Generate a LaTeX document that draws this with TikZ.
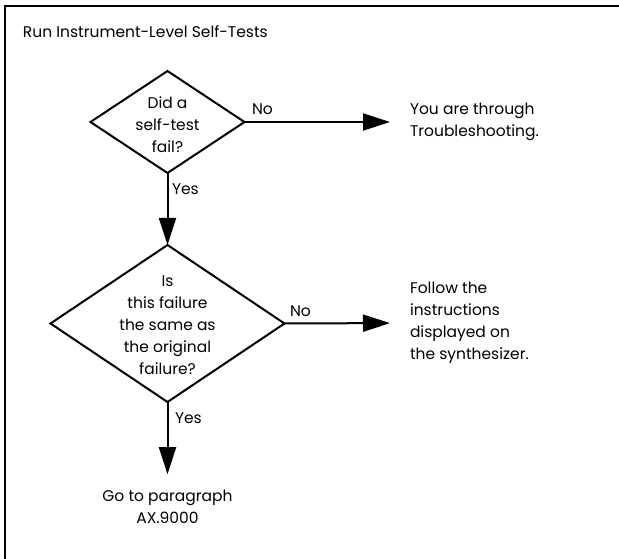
\documentclass[tikz,border=0pt]{standalone}
\usepackage{fontspec}
\setmainfont{Poppins}
\usetikzlibrary{arrows.meta,shapes.geometric}
\begin{document}
\begin{tikzpicture}[x=1pt,y=-1pt,
  every node/.style={inner sep=0pt,outer sep=0pt,font=\fontsize{15.5}{22}\selectfont,text=black},
  dia/.style={draw,diamond,line width=2pt,outer sep=0pt,inner sep=0pt},
  conn/.style={line width=2pt,-{Triangle[length=27pt,width=17pt]}},
  lbl/.style={anchor=base west},
  txt/.style={align=center}]
\useasboundingbox (0,0) rectangle (619,559);
\draw[line width=2pt] (5,559) -- (5,6) -- (619,6);
\node[anchor=base west] (title) at (23,38) {Run Instrument-Level Self-Tests};
\node[dia,minimum width=154pt,minimum height=102pt] (d1) at (167.5,122) {};
\node[txt] (q1) at (167.5,124.5) {Did a\\self-test\\fail?};
\node[dia,minimum width=234pt,minimum height=157pt] (d2) at (167.5,323.5) {};
\node[txt] (q2) at (167.5,325) {Is\\this failure\\the same as\\the original\\failure?};
\node[anchor=west,align=left] (t1) at (410,122) {You are through\\Troubleshooting.};
\node[anchor=west,align=left] (t2) at (410,323) {Follow the\\instructions\\displayed on\\the synthesizer.};
\node[txt] (t3) at (167.5,507) {Go to paragraph\\AX.9000};
\draw[conn,shorten >=20pt] (d1.east) -- (t1.west);
\draw[conn,shorten >=20pt] (d2.east) -- (t2.west);
\draw[conn] (d1.south) -- (d2.north);
\draw[conn,shorten >=16pt] (d2.south) -- (t3.north);
\node[lbl] (no1) at (252,115) {No};
\node[lbl] (no2) at (290,316) {No};
\node[lbl] (yes1) at (172,195) {Yes};
\node[lbl] (yes2) at (175,423) {Yes};
\end{tikzpicture}
\end{document}
